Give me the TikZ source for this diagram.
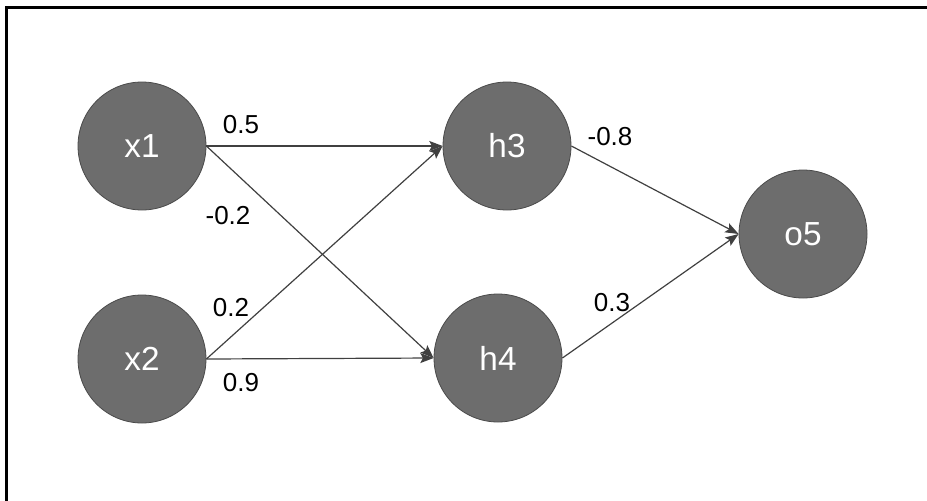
\documentclass[tikz,border=0pt]{standalone}
\usepackage{fontspec}
\setmainfont{Liberation Sans}
\usetikzlibrary{arrows.meta}
\definecolor{nodefill}{HTML}{6D6D6D}
\definecolor{nodeline}{HTML}{4A4A4A}
\definecolor{edgecol}{HTML}{404040}
\begin{document}
\begin{tikzpicture}[x=0.75pt,y=-0.75pt,
  neuron/.style={circle,fill=nodefill,draw=nodeline,line width=0.6pt,minimum size=96pt,inner sep=0pt,text=white,font=\fontsize{25}{29}\selectfont},
  wlabel/.style={font=\fontsize{19.5}{22}\selectfont,text=black,inner sep=0pt},
  edge/.style={draw=edgecol,line width=0.9pt,-{Stealth[length=10pt,width=7.5pt,inset=2pt]}}]
\useasboundingbox (0,0) rectangle (927,500);
\draw[line width=1.8pt,line cap=rect] (6.5,500) coordinate (fb) -- (6.5,7.5) coordinate (fc) -- (927,7.5) coordinate (fr);
\node[neuron] (x1) at (142,146) {x1};
\node[neuron] (x2) at (142,359) {x2};
\node[neuron] (h3) at (507,146) {h3};
\node[neuron] (h4) at (498,358) {h4};
\node[neuron] (o5) at (803,234) {o5};
\draw[edge] (x1.east) -- (h3.west);
\draw[edge] (x1.east) -- (h4.west);
\draw[edge] (x2.east) -- (h3.west);
\draw[edge] (x2.east) -- (h4.west);
\draw[edge] (h3.east) -- (o5.west);
\draw[edge] (h4.east) -- (o5.west);
\node[wlabel] (l1) at (241,125) {0.5};
\node[wlabel] (l2) at (228,216) {-0.2};
\node[wlabel] (l3) at (231,308) {0.2};
\node[wlabel] (l4) at (241,383) {0.9};
\node[wlabel] (l5) at (610,137) {-0.8};
\node[wlabel] (l6) at (612,303) {0.3};
\end{tikzpicture}
\end{document}
